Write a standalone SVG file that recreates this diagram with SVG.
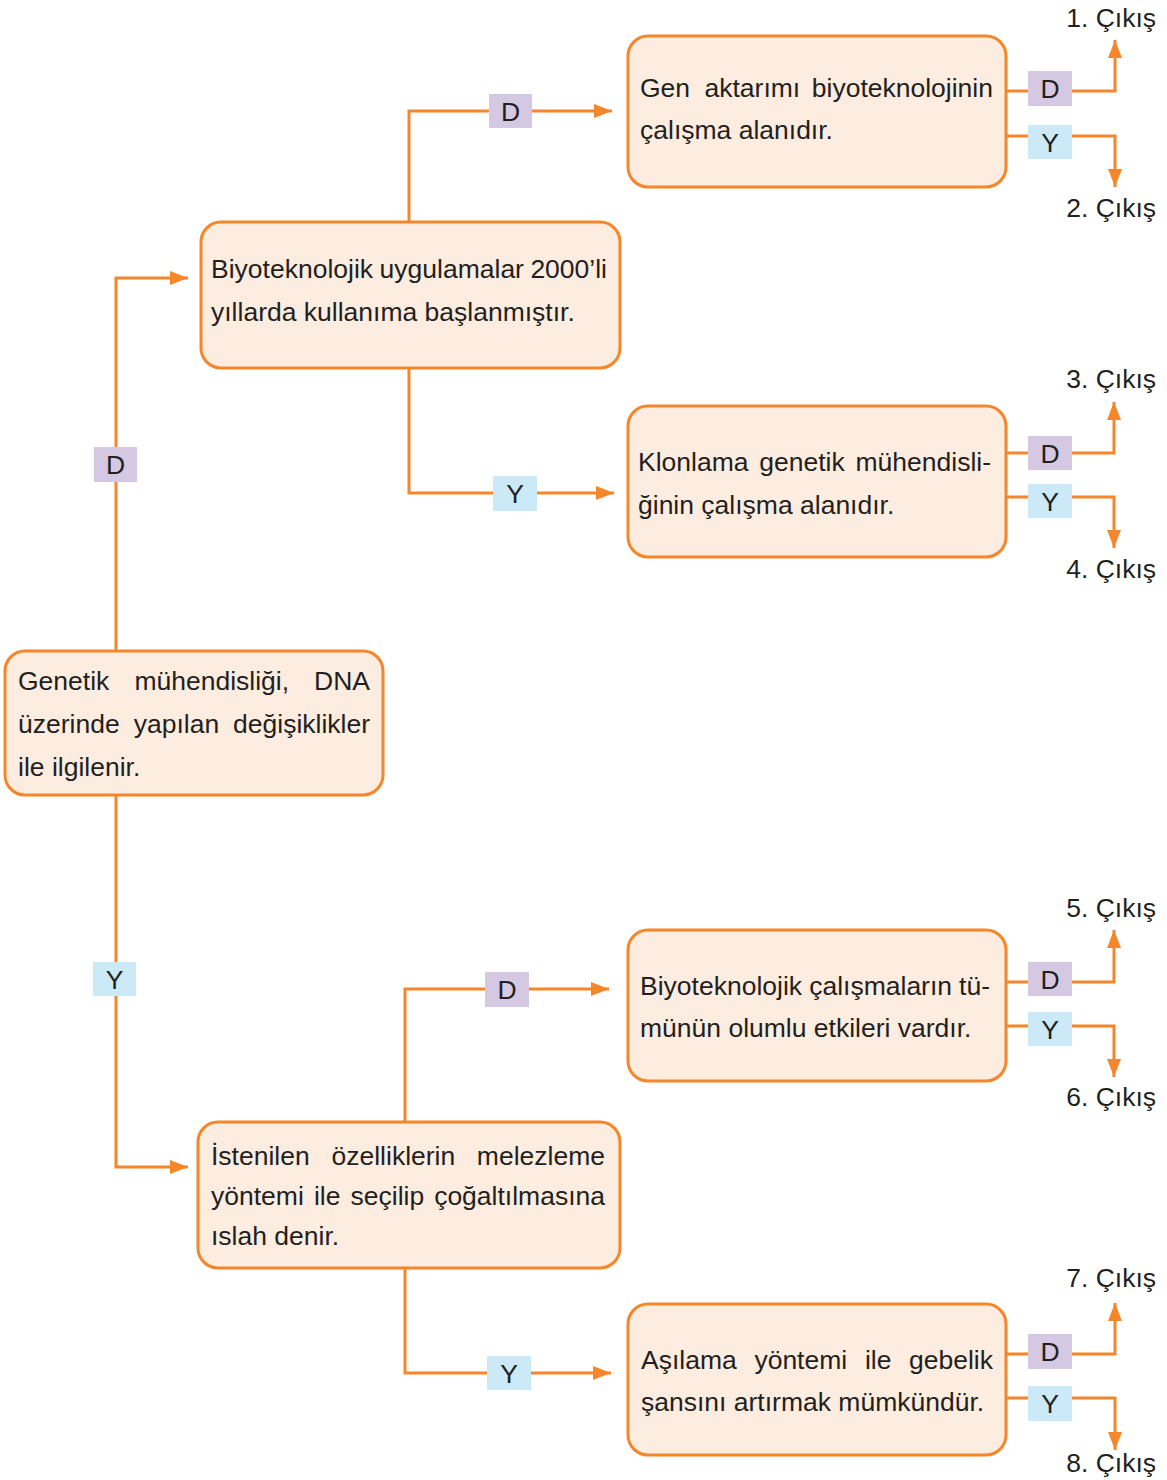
<svg xmlns="http://www.w3.org/2000/svg" width="1167" height="1480" viewBox="0 0 1167 1480">
<defs>
<marker id="arr" markerUnits="userSpaceOnUse" markerWidth="18" markerHeight="14" refX="18" refY="7" orient="auto">
<path d="M0,0 L18,7 L0,14 z" fill="#F6862A"/>
</marker>
<style>
.node{fill:#FDEDE0;stroke:#F6862A;stroke-width:3}
.ln{fill:none;stroke:#F6862A;stroke-width:3}
.t{font-family:"Liberation Sans",Arial,sans-serif;font-size:26.5px;fill:#231F20}
.lb{font-family:"Liberation Sans",Arial,sans-serif;font-size:26.5px;fill:#231F20;text-anchor:middle}
.d{fill:#D5C8E2}
.y{fill:#CCE9F8}
.ex{font-family:"Liberation Sans",Arial,sans-serif;font-size:26.5px;fill:#231F20;text-anchor:end}
</style>
</defs>
<rect width="1167" height="1480" fill="#FFFFFF"/>

<g id="connectors">
<polyline class="ln" points="116,651 116,278 188,278" marker-end="url(#arr)"/>
<rect class="d" x="94" y="447" width="43" height="35"/>
<text class="lb" x="115.5" y="474">D</text>
<polyline class="ln" points="116,795 116,1167 188,1167" marker-end="url(#arr)"/>
<rect class="y" x="93" y="962" width="43" height="34"/>
<text class="lb" x="114.5" y="989">Y</text>
<polyline class="ln" points="409,222 409,111 612,111" marker-end="url(#arr)"/>
<rect class="d" x="489" y="94" width="43" height="34"/>
<text class="lb" x="510.5" y="121">D</text>
<polyline class="ln" points="409,368 409,493 614,493" marker-end="url(#arr)"/>
<rect class="y" x="493" y="476" width="44" height="35"/>
<text class="lb" x="515" y="503">Y</text>
<polyline class="ln" points="405,1122 405,989 609,989" marker-end="url(#arr)"/>
<rect class="d" x="485" y="972" width="44" height="35"/>
<text class="lb" x="507" y="999">D</text>
<polyline class="ln" points="405,1268 405,1373 611,1373" marker-end="url(#arr)"/>
<rect class="y" x="487" y="1356" width="44" height="34"/>
<text class="lb" x="509" y="1383">Y</text>

<polyline class="ln" points="1006,91 1115,91 1115,40" marker-end="url(#arr)"/>
<rect class="d" x="1028" y="71" width="44" height="35"/>
<text class="lb" x="1050" y="98">D</text>
<polyline class="ln" points="1006,136 1115,136 1115,187" marker-end="url(#arr)"/>
<rect class="y" x="1028" y="125" width="44" height="34"/>
<text class="lb" x="1050" y="152">Y</text>
<text class="ex" x="1156" y="27">1. Çıkış</text>
<text class="ex" x="1156" y="217">2. Çıkış</text>

<polyline class="ln" points="1006,453 1114,453 1114,402" marker-end="url(#arr)"/>
<rect class="d" x="1028" y="436" width="44" height="34"/>
<text class="lb" x="1050" y="463">D</text>
<polyline class="ln" points="1006,497 1114,497 1114,548" marker-end="url(#arr)"/>
<rect class="y" x="1028" y="484" width="44" height="34"/>
<text class="lb" x="1050" y="511">Y</text>
<text class="ex" x="1156" y="388">3. Çıkış</text>
<text class="ex" x="1156" y="578">4. Çıkış</text>

<polyline class="ln" points="1006,982 1114,982 1114,930" marker-end="url(#arr)"/>
<rect class="d" x="1028" y="962" width="44" height="34"/>
<text class="lb" x="1050" y="989">D</text>
<polyline class="ln" points="1006,1026 1114,1026 1114,1077" marker-end="url(#arr)"/>
<rect class="y" x="1028" y="1012" width="44" height="34"/>
<text class="lb" x="1050" y="1039">Y</text>
<text class="ex" x="1156" y="917">5. Çıkış</text>
<text class="ex" x="1156" y="1106">6. Çıkış</text>

<polyline class="ln" points="1006,1354 1115,1354 1115,1303" marker-end="url(#arr)"/>
<rect class="d" x="1028" y="1334" width="44" height="35"/>
<text class="lb" x="1050" y="1361">D</text>
<polyline class="ln" points="1006,1398 1115,1398 1115,1450" marker-end="url(#arr)"/>
<rect class="y" x="1028" y="1386" width="44" height="35"/>
<text class="lb" x="1050" y="1413">Y</text>
<text class="ex" x="1156" y="1287">7. Çıkış</text>
<text class="ex" x="1156" y="1472">8. Çıkış</text>
</g>

<g id="nodeA">
<rect class="node" x="5" y="651" width="378" height="144" rx="20"/>
<text class="t" x="18" y="690">Genetik</text>
<text class="t" x="134.4" y="690">mühendisliği,</text>
<text class="t" x="370" y="690" text-anchor="end">DNA</text>
<text class="t" x="18" y="733">üzerinde</text>
<text class="t" x="133.7" y="733">yapılan</text>
<text class="t" x="370" y="733" text-anchor="end">değişiklikler</text>
<text class="t" x="18" y="776">ile ilgilenir.</text>
</g>

<g id="nodeB">
<rect class="node" x="201" y="222" width="419" height="146" rx="20"/>
<text class="t" x="211" y="278">Biyoteknolojik</text>
<text class="t" x="379.6" y="278">uygulamalar</text>
<text class="t" x="607" y="278" text-anchor="end">2000’li</text>
<text class="t" x="211" y="321">yıllarda kullanıma başlanmıştır.</text>
</g>

<g id="nodeC">
<rect class="node" x="198" y="1122" width="422" height="146" rx="20"/>
<text class="t" x="211" y="1165">İstenilen</text>
<text class="t" x="331.5" y="1165">özelliklerin</text>
<text class="t" x="605" y="1165" text-anchor="end">melezleme</text>
<text class="t" x="211" y="1205">yöntemi</text>
<text class="t" x="313.9" y="1205">ile</text>
<text class="t" x="350.5" y="1205">seçilip</text>
<text class="t" x="605" y="1205" text-anchor="end">çoğaltılmasına</text>
<text class="t" x="211" y="1245">ıslah denir.</text>
</g>

<g id="nodeR1">
<rect class="node" x="628" y="36" width="378" height="151" rx="20"/>
<text class="t" x="640" y="97">Gen</text>
<text class="t" x="704.5" y="97">aktarımı</text>
<text class="t" x="993" y="97" text-anchor="end">biyoteknolojinin</text>
<text class="t" x="640" y="139">çalışma alanıdır.</text>
</g>

<g id="nodeR2">
<rect class="node" x="628" y="406" width="378" height="151" rx="20"/>
<text class="t" x="638" y="471">Klonlama</text>
<text class="t" x="759.3" y="471">genetik</text>
<text class="t" x="991" y="471" text-anchor="end">mühendisli-</text>
<text class="t" x="638" y="514">ğinin çalışma alanıdır.</text>
</g>

<g id="nodeR3">
<rect class="node" x="628" y="930" width="378" height="151" rx="20"/>
<text class="t" x="640" y="995">Biyoteknolojik</text>
<text class="t" x="809.2" y="995">çalışmaların</text>
<text class="t" x="990" y="995" text-anchor="end">tü-</text>
<text class="t" x="640" y="1037">münün olumlu etkileri vardır.</text>
</g>

<g id="nodeR4">
<rect class="node" x="628" y="1304" width="378" height="151" rx="20"/>
<text class="t" x="641" y="1369">Aşılama</text>
<text class="t" x="754.4" y="1369">yöntemi</text>
<text class="t" x="864.9" y="1369">ile</text>
<text class="t" x="993" y="1369" text-anchor="end">gebelik</text>
<text class="t" x="641" y="1411">şansını artırmak mümkündür.</text>
</g>
</svg>
